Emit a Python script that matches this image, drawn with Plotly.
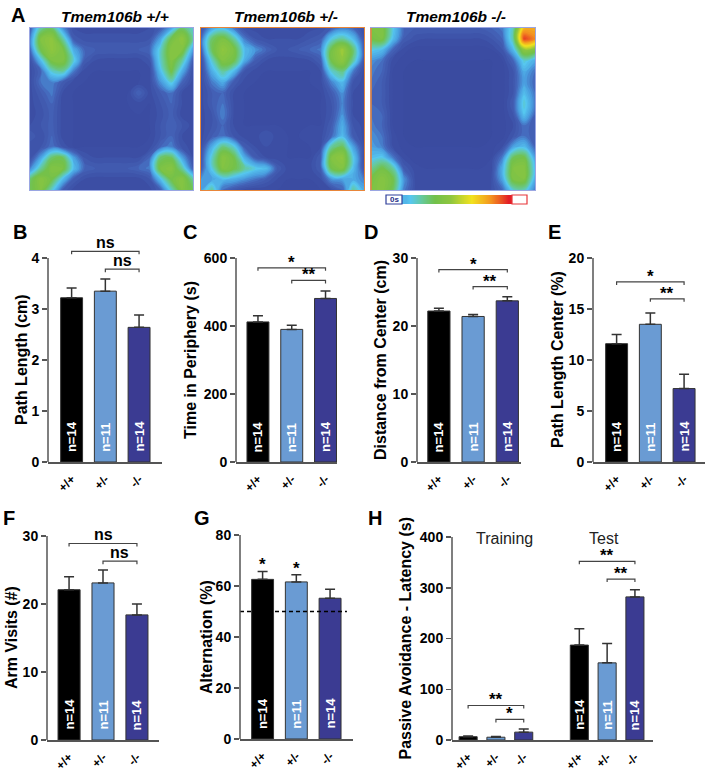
import plotly.graph_objects as go

W, H = 709, 772
FONT = "Arial, Liberation Sans, Helvetica, sans-serif"
AX = "#555555"

# ---------------- data ----------------
genotypes = ["+/+", "+/-", "-/-"]
heat_titles = ["Tmem106b +/+", "Tmem106b +/-", "Tmem106b -/-"]
bar_colors = ["#000000", "#6a9bd3", "#3b3b92"]
n_labels = ["n=14", "n=11", "n=14"]

# Panel A: occupancy heatmaps (coarse 16x16 grids, rows top->bottom)
heat_wt = [
    [0.10, 0.35, 0.40, 0.18, 0.06, 0.05, 0.05, 0.05, 0.05, 0.05, 0.05, 0.06, 0.10, 0.20, 0.40, 0.30],
    [0.15, 0.50, 0.55, 0.35, 0.10, 0.07, 0.07, 0.07, 0.07, 0.07, 0.07, 0.08, 0.20, 0.45, 0.55, 0.35],
    [0.12, 0.45, 0.55, 0.48, 0.22, 0.12, 0.10, 0.10, 0.10, 0.10, 0.10, 0.12, 0.30, 0.52, 0.50, 0.20],
    [0.06, 0.25, 0.48, 0.50, 0.30, 0.10, 0.06, 0.05, 0.05, 0.05, 0.05, 0.08, 0.30, 0.50, 0.35, 0.10],
    [0.05, 0.12, 0.30, 0.35, 0.15, 0.05, 0.04, 0.04, 0.04, 0.04, 0.04, 0.05, 0.25, 0.45, 0.22, 0.06],
    [0.05, 0.14, 0.16, 0.10, 0.05, 0.04, 0.04, 0.04, 0.04, 0.04, 0.04, 0.05, 0.18, 0.30, 0.12, 0.05],
    [0.05, 0.10, 0.15, 0.06, 0.04, 0.04, 0.04, 0.04, 0.04, 0.04, 0.12, 0.05, 0.10, 0.14, 0.06, 0.05],
    [0.05, 0.08, 0.12, 0.05, 0.04, 0.04, 0.04, 0.04, 0.04, 0.04, 0.05, 0.04, 0.08, 0.12, 0.06, 0.05],
    [0.05, 0.07, 0.11, 0.05, 0.04, 0.04, 0.04, 0.04, 0.04, 0.04, 0.04, 0.04, 0.07, 0.11, 0.05, 0.05],
    [0.06, 0.08, 0.11, 0.05, 0.04, 0.04, 0.04, 0.04, 0.04, 0.04, 0.04, 0.04, 0.08, 0.12, 0.08, 0.05],
    [0.10, 0.06, 0.12, 0.05, 0.04, 0.04, 0.04, 0.04, 0.04, 0.04, 0.04, 0.04, 0.08, 0.12, 0.06, 0.05],
    [0.06, 0.08, 0.14, 0.08, 0.04, 0.04, 0.04, 0.04, 0.04, 0.04, 0.04, 0.05, 0.12, 0.16, 0.07, 0.05],
    [0.06, 0.20, 0.40, 0.42, 0.20, 0.08, 0.06, 0.06, 0.06, 0.06, 0.06, 0.12, 0.40, 0.42, 0.20, 0.06],
    [0.15, 0.35, 0.50, 0.48, 0.25, 0.12, 0.10, 0.10, 0.10, 0.10, 0.12, 0.15, 0.48, 0.52, 0.35, 0.10],
    [0.40, 0.52, 0.45, 0.25, 0.10, 0.06, 0.05, 0.05, 0.05, 0.05, 0.05, 0.08, 0.25, 0.45, 0.52, 0.35],
    [0.42, 0.50, 0.30, 0.10, 0.05, 0.04, 0.04, 0.04, 0.04, 0.04, 0.04, 0.05, 0.10, 0.30, 0.50, 0.42],
]
heat_het = [
    [0.08, 0.20, 0.25, 0.15, 0.06, 0.05, 0.05, 0.05, 0.05, 0.05, 0.05, 0.06, 0.10, 0.15, 0.12, 0.06],
    [0.12, 0.40, 0.48, 0.35, 0.15, 0.08, 0.06, 0.06, 0.06, 0.06, 0.08, 0.10, 0.28, 0.35, 0.25, 0.08],
    [0.10, 0.42, 0.55, 0.48, 0.25, 0.18, 0.12, 0.08, 0.08, 0.10, 0.12, 0.15, 0.45, 0.58, 0.40, 0.10],
    [0.06, 0.30, 0.50, 0.45, 0.22, 0.10, 0.06, 0.05, 0.05, 0.05, 0.06, 0.10, 0.45, 0.55, 0.35, 0.08],
    [0.05, 0.22, 0.35, 0.25, 0.08, 0.05, 0.04, 0.04, 0.04, 0.04, 0.04, 0.06, 0.30, 0.38, 0.15, 0.05],
    [0.05, 0.15, 0.22, 0.10, 0.05, 0.04, 0.04, 0.04, 0.04, 0.04, 0.04, 0.05, 0.16, 0.25, 0.08, 0.05],
    [0.05, 0.10, 0.12, 0.06, 0.04, 0.04, 0.04, 0.04, 0.04, 0.04, 0.04, 0.04, 0.10, 0.18, 0.06, 0.05],
    [0.05, 0.10, 0.14, 0.06, 0.04, 0.04, 0.04, 0.04, 0.04, 0.04, 0.04, 0.04, 0.08, 0.16, 0.06, 0.05],
    [0.05, 0.08, 0.16, 0.06, 0.04, 0.04, 0.04, 0.04, 0.04, 0.04, 0.04, 0.04, 0.08, 0.18, 0.06, 0.05],
    [0.05, 0.08, 0.12, 0.06, 0.04, 0.04, 0.04, 0.04, 0.04, 0.04, 0.04, 0.04, 0.10, 0.22, 0.08, 0.05],
    [0.05, 0.10, 0.14, 0.08, 0.05, 0.05, 0.08, 0.05, 0.04, 0.04, 0.05, 0.05, 0.12, 0.25, 0.10, 0.05],
    [0.06, 0.22, 0.38, 0.30, 0.10, 0.06, 0.06, 0.05, 0.04, 0.04, 0.04, 0.06, 0.35, 0.42, 0.20, 0.06],
    [0.08, 0.30, 0.52, 0.45, 0.22, 0.10, 0.06, 0.05, 0.04, 0.04, 0.04, 0.10, 0.50, 0.55, 0.28, 0.06],
    [0.10, 0.28, 0.50, 0.45, 0.35, 0.28, 0.25, 0.10, 0.05, 0.05, 0.05, 0.10, 0.45, 0.50, 0.25, 0.08],
    [0.18, 0.20, 0.25, 0.22, 0.18, 0.14, 0.10, 0.06, 0.04, 0.04, 0.04, 0.06, 0.18, 0.20, 0.22, 0.15],
    [0.20, 0.35, 0.12, 0.08, 0.05, 0.04, 0.04, 0.04, 0.04, 0.04, 0.04, 0.04, 0.06, 0.10, 0.35, 0.22],
]
heat_ko = [
    [0.48, 0.50, 0.28, 0.12, 0.10, 0.10, 0.10, 0.10, 0.10, 0.10, 0.10, 0.12, 0.15, 0.32, 0.78, 0.80],
    [0.45, 0.48, 0.25, 0.10, 0.07, 0.06, 0.06, 0.06, 0.06, 0.06, 0.06, 0.08, 0.12, 0.34, 0.96, 0.86],
    [0.28, 0.25, 0.12, 0.05, 0.03, 0.03, 0.03, 0.03, 0.03, 0.03, 0.03, 0.04, 0.08, 0.24, 0.55, 0.50],
    [0.18, 0.14, 0.05, 0.03, 0.02, 0.02, 0.02, 0.02, 0.02, 0.02, 0.02, 0.02, 0.04, 0.12, 0.30, 0.22],
    [0.15, 0.12, 0.04, 0.02, 0.02, 0.02, 0.02, 0.02, 0.02, 0.02, 0.02, 0.02, 0.03, 0.08, 0.22, 0.14],
    [0.14, 0.10, 0.04, 0.02, 0.02, 0.02, 0.02, 0.02, 0.02, 0.02, 0.02, 0.02, 0.03, 0.08, 0.20, 0.12],
    [0.12, 0.10, 0.04, 0.02, 0.02, 0.02, 0.02, 0.02, 0.02, 0.02, 0.02, 0.02, 0.03, 0.08, 0.25, 0.14],
    [0.12, 0.10, 0.04, 0.02, 0.02, 0.02, 0.02, 0.02, 0.02, 0.02, 0.02, 0.02, 0.03, 0.10, 0.30, 0.15],
    [0.14, 0.12, 0.04, 0.02, 0.02, 0.02, 0.02, 0.02, 0.02, 0.02, 0.02, 0.02, 0.03, 0.08, 0.26, 0.12],
    [0.15, 0.12, 0.04, 0.02, 0.02, 0.02, 0.02, 0.02, 0.02, 0.02, 0.02, 0.02, 0.03, 0.06, 0.14, 0.10],
    [0.18, 0.14, 0.05, 0.02, 0.02, 0.02, 0.02, 0.02, 0.02, 0.02, 0.02, 0.02, 0.03, 0.08, 0.14, 0.10],
    [0.20, 0.16, 0.06, 0.03, 0.02, 0.02, 0.02, 0.02, 0.02, 0.02, 0.02, 0.03, 0.06, 0.20, 0.25, 0.12],
    [0.25, 0.28, 0.15, 0.05, 0.03, 0.03, 0.03, 0.03, 0.03, 0.03, 0.03, 0.04, 0.15, 0.42, 0.45, 0.20],
    [0.35, 0.45, 0.35, 0.10, 0.05, 0.04, 0.04, 0.04, 0.04, 0.04, 0.04, 0.05, 0.22, 0.50, 0.52, 0.25],
    [0.45, 0.52, 0.45, 0.18, 0.06, 0.05, 0.05, 0.05, 0.05, 0.05, 0.05, 0.06, 0.20, 0.48, 0.50, 0.22],
    [0.48, 0.52, 0.42, 0.15, 0.06, 0.05, 0.05, 0.05, 0.05, 0.05, 0.05, 0.06, 0.12, 0.30, 0.32, 0.15],
]
colorbar_levels = [0.24, 0.30, 0.36, 0.42, 0.48, 0.54, 0.60, 0.66, 0.72, 0.78, 0.85, 0.92, 1.0]

# Panel B-E: open field
path_length = [3.22, 3.35, 2.64]
path_length_sem = [0.19, 0.24, 0.24]
time_periphery = [412, 390, 481]
time_periphery_sem = [18, 12, 22]
dist_center = [22.2, 21.4, 23.7]
dist_center_sem = [0.4, 0.3, 0.6]
path_center = [11.6, 13.5, 7.2]
path_center_sem = [0.9, 1.1, 1.4]
# Panel F-G: Y maze
arm_visits = [22.1, 23.1, 18.4]
arm_visits_sem = [1.9, 1.9, 1.6]
alternation = [62.6, 61.6, 55.2]
alternation_sem = [3.1, 2.8, 3.5]
chance_level = 50
# Panel H: passive avoidance
pa_groups = ["Training", "Test"]
pa_training = [6.5, 5.5, 15.5]
pa_training_sem = [1.5, 1.5, 6.0]
pa_test = [187, 152, 282]
pa_test_sem = [32, 38, 14]

# ---------------- figure ----------------
fig = go.Figure()
layout = dict(width=W, height=H, margin=dict(l=0, r=0, t=0, b=0, autoexpand=False),
              paper_bgcolor="white", plot_bgcolor="white", showlegend=False,
              font=dict(family=FONT, color="black"))
annotations = []
shapes = []


def ref(n, k):
    return k + ("" if n == 1 else str(n))


def axkey(n, k):
    return k + "axis" + ("" if n == 1 else str(n))


def paper_text(text, px, py, size, color="black", angle=0, xanchor="center"):
    annotations.append(dict(text=text, x=px / W, y=1 - py / H, xref="paper", yref="paper",
                            xanchor=xanchor, yanchor="middle", textangle=angle, showarrow=False,
                            font=dict(size=size, family=FONT, color=color)))


heat_cs = [[0.0, "#3a4a9f"], [0.05, "#3c4ea4"], [0.12, "#4463b8"], [0.19, "#4a9ddf"],
           [0.27, "#56c7ef"], [0.35, "#66c99a"], [0.44, "#72c14a"], [0.55, "#8ec63f"],
           [0.70, "#f2e21e"], [0.85, "#f39020"], [1.0, "#e31e26"]]

# Panel A
heat_data = [heat_wt, heat_het, heat_ko]
heat_px = [(30, 193), (201, 364), (371, 535)]
heat_border = ["#9aa6e2", "#e8863a", "#9aa6e2"]
for k in range(3):
    n = k + 1
    fig.add_trace(go.Contour(z=heat_data[k], colorscale=heat_cs, zmin=0, zmax=1,
                             autocontour=False,
                             contours=dict(start=0.0, end=1.0, size=0.02, coloring="fill",
                                           showlines=False),
                             line=dict(width=0, smoothing=1.3),
                             showscale=False, hoverinfo="skip",
                             xaxis=ref(n, "x"), yaxis=ref(n, "y")))
    x0, x1 = heat_px[k]
    layout[axkey(n, "x")] = dict(domain=[x0 / W, x1 / W], anchor=ref(n, "y"), range=[0, 15],
                                 showticklabels=False, ticks="", showgrid=False, zeroline=False,
                                 automargin=False,
                                 showline=True, mirror=True, linecolor=heat_border[k], linewidth=1)
    layout[axkey(n, "y")] = dict(domain=[1 - 190 / H, 1 - 28 / H], anchor=ref(n, "x"),
                                 range=[15, 0], showticklabels=False, ticks="",
                                 showgrid=False, zeroline=False, automargin=False,
                                 showline=True, mirror=True, linecolor=heat_border[k], linewidth=1)
    paper_text("<b><i>%s</i></b>" % heat_titles[k], (x0 + x1) / 2 + 3, 17, 15.5)
shapes.append(dict(type="line", xref="paper", yref="paper", x0=371 / W, x1=371 / W,
                   y0=1 - 190 / H, y1=1 - 28 / H, line=dict(color="#e8863a", width=1.5)))

# colour scale bar
n = 4
fig.add_trace(go.Heatmap(z=[colorbar_levels], colorscale=heat_cs, zmin=0, zmax=1,
                         zsmooth="best", showscale=False, hoverinfo="skip",
                         xaxis=ref(n, "x"), yaxis=ref(n, "y")))
layout[axkey(n, "x")] = dict(domain=[402 / W, 512 / W], anchor=ref(n, "y"), automargin=False,
                             range=[-0.5, len(colorbar_levels) - 0.5], visible=False)
layout[axkey(n, "y")] = dict(domain=[1 - 204 / H, 1 - 195 / H], anchor=ref(n, "x"), automargin=False,
                             range=[-0.5, 0.5], visible=False)
shapes.append(dict(type="rect", xref="paper", yref="paper", x0=386 / W, x1=402 / W,
                   y0=1 - 204 / H, y1=1 - 195 / H, fillcolor="white",
                   line=dict(color="#2f3f9a", width=1.2)))
shapes.append(dict(type="rect", xref="paper", yref="paper", x0=512 / W, x1=527 / W,
                   y0=1 - 204 / H, y1=1 - 195 / H, fillcolor="white",
                   line=dict(color="#e8363a", width=1.2)))
paper_text("<b>0s</b>", 388, 199.5, 8, color="#1f2f8a", xanchor="left")

# panel letters
letters = [("A", 18, 15), ("B", 19.5, 232), ("C", 190, 232), ("D", 371, 232), ("E", 554, 232),
           ("F", 8.5, 518), ("G", 202, 518), ("H", 375, 518)]
for t, lx, ly in letters:
    paper_text("<b>%s</b>" % t, lx, ly, 20)


def bold(lst):
    return ["<b>%s</b>" % s for s in lst]


def bar_panel(n, x0, x1, xr, zero, tickpx, tickmax, dtick, rmax, xs, vals, sems, colors,
              ticktext, ytitle, title_x, sigs, nlabels=True):
    xa, ya = ref(n, "x"), ref(n, "y")
    pxu = (zero - tickpx) / tickmax
    top_px = zero - rmax * pxu
    yt = list(range(0, tickmax + 1, dtick))
    layout[axkey(n, "x")] = dict(domain=[x0 / W, x1 / W], range=list(xr), anchor=ya,
                                 showline=True, linecolor=AX, linewidth=1.5, ticks="",
                                 tickmode="array", tickvals=xs, ticktext=bold(ticktext),
                                 tickangle=-45, ticklabelstandoff=4, automargin=False,
                                 tickfont=dict(size=12, family=FONT, color="black"),
                                 showgrid=False, zeroline=False)
    layout[axkey(n, "y")] = dict(domain=[1 - zero / H, 1 - top_px / H], range=[0, rmax], anchor=xa,
                                 showline=False, ticks="outside", ticklen=5, tickwidth=1.5,
                                 tickcolor=AX, tickmode="array", tickvals=yt,
                                 ticktext=bold([str(v) for v in yt]), automargin=False,
                                 tickfont=dict(size=14, family=FONT, color="black"),
                                 showgrid=False, zeroline=False)
    shapes.append(dict(type="line", xref=xa + " domain", yref=ya, x0=0, x1=0, y0=0, y1=tickmax,
                       line=dict(color=AX, width=1.5)))
    fig.add_trace(go.Bar(x=xs, y=vals, width=0.65, xaxis=xa, yaxis=ya,
                         marker=dict(color=colors, line=dict(color="#333333", width=1)),
                         error_y=dict(type="data", array=sems, arrayminus=[0] * len(sems),
                                      symmetric=False, color="#333333", thickness=1.5, width=5),
                         hoverinfo="skip"))
    if nlabels:
        for i, x in enumerate(xs):
            if nlabels is True or i in nlabels:
                annotations.append(dict(text="<b>%s</b>" % n_labels[i % 3], x=x, y=0, xref=xa, yref=ya,
                                        xanchor="center", yanchor="bottom", yshift=8, textangle=-90,
                                        showarrow=False,
                                        font=dict(size=13, family=FONT, color="white")))
    paper_text("<b>%s</b>" % ytitle, title_x, (zero + tickpx) / 2, 16, angle=-90)
    drop = 3.0 / pxu
    for (i, j, yv, lab) in sigs:
        fig.add_trace(go.Scatter(x=[i, i, j, j], y=[yv - drop, yv, yv, yv - drop], mode="lines",
                                 line=dict(color="#444444", width=1.2), xaxis=xa, yaxis=ya,
                                 hoverinfo="skip", cliponaxis=False))
        annotations.append(dict(text="<b>%s</b>" % lab, x=(i + j) / 2, y=yv, xref=xa, yref=ya,
                                xanchor="center", yanchor="bottom",
                                yshift=(-2 if lab == "ns" else -6), showarrow=False,
                                font=dict(size=(16 if lab == "ns" else 17), family=FONT, color="black")))


xs3 = [0, 1, 2]
bar_panel(5, 48, 162, (-0.70, 2.68), 462, 258, 4, 1, 4.45, xs3, path_length, path_length_sem,
          bar_colors, genotypes, "Path Length (cm)", 21,
          [(0, 2, 4.13, "ns"), (1, 2, 3.78, "ns")])
bar_panel(6, 236, 337, (-0.65, 2.34), 462, 258, 600, 200, 667, xs3, time_periphery, time_periphery_sem,
          bar_colors, genotypes, "Time in Periphery (s)", 190,
          [(0, 2, 571, "*"), (1, 2, 534, "**")])
bar_panel(7, 417, 521, (-0.64, 2.4), 462, 258, 30, 10, 33.4, xs3, dist_center, dist_center_sem,
          bar_colors, genotypes, "Distance from Center (cm)", 380,
          [(0, 2, 28.3, "*"), (1, 2, 25.8, "**")])
bar_panel(8, 593, 705, (-0.70, 2.62), 462, 258, 20, 5, 22.2, xs3, path_center, path_center_sem,
          bar_colors, genotypes, "Path Length Center (%)", 557,
          [(0, 2, 17.65, "*"), (1, 2, 16.0, "**")])
bar_panel(9, 47, 159, (-0.65, 2.65), 740, 536, 30, 10, 33.4, xs3, arm_visits, arm_visits_sem,
          bar_colors, genotypes, "Arm Visits (#)", 11,
          [(0, 2, 28.9, "ns"), (1, 2, 26.3, "ns")])
bar_panel(10, 240, 353, (-0.67, 2.68), 739, 535, 80, 20, 89, xs3, alternation, alternation_sem,
          bar_colors, genotypes, "Alternation (%)", 206, [])
# chance level line for G
fig.add_trace(go.Scatter(x=[-0.67, 2.5], y=[chance_level, chance_level], mode="lines",
                         line=dict(color="black", width=1.5, dash="4px,3px"), xaxis="x10", yaxis="y10",
                         hoverinfo="skip"))
for i in [0, 1]:
    annotations.append(dict(text="<b>*</b>", x=i, y=alternation[i] + alternation_sem[i], xref="x10",
                            yref="y10", xanchor="center", yanchor="bottom", yshift=-5, showarrow=False,
                            font=dict(size=17, family=FONT, color="black")))

xs6 = [0, 1, 2, 4, 5, 6]
bar_panel(11, 452, 653, (-0.58, 6.65), 740, 537, 400, 100, 445, xs6, pa_training + pa_test,
          pa_training_sem + pa_test_sem, bar_colors + bar_colors, genotypes + genotypes,
          "Passive Avoidance - Latency (s)", 405,
          [(0, 2, 68, "**"), (1, 2, 40.6, "*"), (4, 6, 352, "**"), (5, 6, 317, "**")],
          nlabels=[3, 4, 5])
for gi, gx in enumerate([1.3, 4.9]):
    annotations.append(dict(text=pa_groups[gi], x=gx, y=398, xref="x11", yref="y11",
                            xanchor="center", yanchor="middle", showarrow=False,
                            font=dict(size=16, family=FONT, color="#222222")))

layout["annotations"] = annotations
layout["shapes"] = shapes
fig.update_layout(**layout)
fig.write_html("out.html", config={"displayModeBar": False, "staticPlot": True},
               post_script="document.body.style.margin='0px';document.body.style.overflow='hidden';")
